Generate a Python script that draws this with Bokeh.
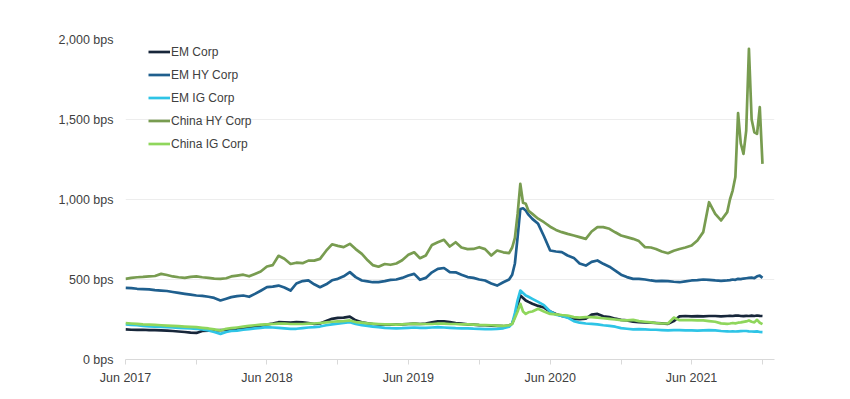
import pandas as pd
from datetime import datetime
from bokeh.plotting import figure
from bokeh.models import (Range1d, FixedTicker, DatetimeTickFormatter,
                          CustomJSTickFormatter, Legend, LegendItem)
from bokeh.embed import file_html
from bokeh.resources import INLINE

# ---------------- data ----------------
dates = [
    "2017-06-01", "2017-06-16", "2017-07-01", "2017-07-16", "2017-08-01", "2017-08-16",
    "2017-09-01", "2017-09-16", "2017-10-01", "2017-10-16", "2017-11-01", "2017-11-16",
    "2017-12-01", "2017-12-16", "2018-01-01", "2018-01-16", "2018-02-01", "2018-02-16",
    "2018-03-01", "2018-03-16", "2018-04-01", "2018-04-16", "2018-05-01", "2018-05-16",
    "2018-06-01", "2018-06-16", "2018-07-01", "2018-07-16", "2018-08-01", "2018-08-16",
    "2018-09-01", "2018-09-16", "2018-10-01", "2018-10-16", "2018-11-01", "2018-11-16",
    "2018-12-01", "2018-12-16", "2019-01-01", "2019-01-16", "2019-02-01", "2019-02-16",
    "2019-03-01", "2019-03-16", "2019-04-01", "2019-04-16", "2019-05-01", "2019-05-16",
    "2019-06-01", "2019-06-16", "2019-07-01", "2019-07-16", "2019-08-01", "2019-08-16",
    "2019-09-01", "2019-09-16", "2019-10-01", "2019-10-16", "2019-11-01", "2019-11-16",
    "2019-12-01", "2019-12-16", "2020-01-01", "2020-01-16",
    "2020-02-01", "2020-02-16", "2020-02-24", "2020-03-02", "2020-03-09", "2020-03-16",
    "2020-03-23", "2020-03-30", "2020-04-06", "2020-04-16",
    "2020-05-01", "2020-05-16", "2020-06-01", "2020-06-16", "2020-07-01", "2020-07-16",
    "2020-08-01", "2020-08-16", "2020-09-01", "2020-09-16", "2020-10-01", "2020-10-16",
    "2020-11-01", "2020-11-16", "2020-12-01", "2020-12-16", "2021-01-01", "2021-01-16",
    "2021-02-01", "2021-02-16", "2021-03-01", "2021-03-16", "2021-04-01", "2021-04-16",
    "2021-05-01", "2021-05-16", "2021-06-01", "2021-06-16", "2021-07-01", "2021-07-16",
    "2021-08-01", "2021-08-16",
    "2021-09-01", "2021-09-08", "2021-09-15", "2021-09-22", "2021-09-29", "2021-10-06",
    "2021-10-13", "2021-10-20", "2021-10-27", "2021-11-03", "2021-11-10", "2021-11-17",
    "2021-11-24", "2021-12-01",
]

em_corp = [
    188, 186, 185, 186, 184, 183, 182, 181, 178, 175, 172, 168,
    166, 178, 180, 182, 184, 185, 188, 190, 195, 198, 205, 212,
    219, 225, 233, 232, 230, 233, 232, 228, 222, 225, 240, 254,
    260, 262, 268, 245, 233, 226, 222, 219, 218, 218, 218, 220,
    222, 224, 222, 224, 232, 238, 238, 234, 228, 224, 220, 218,
    215, 214, 212, 210,
    208, 212, 225, 270, 340, 400, 385, 369, 360, 348,
    335, 325, 300, 285, 272, 265, 254, 252, 256, 280, 285, 270,
    265, 255, 248, 244, 236, 233, 232, 230, 228, 226, 223, 240,
    270, 272, 270, 271, 270, 272, 272, 270,
    272, 273, 272, 274, 275, 272, 271, 273, 272, 274, 272, 275,
    273, 272,
]

em_hy_corp = [
    448, 446, 442, 440, 438, 434, 431, 428, 422, 416, 410, 405,
    400, 398, 392, 385, 369, 380, 390, 396, 400, 392, 410, 430,
    452, 455, 462, 450, 431, 475, 490, 494, 470, 452, 470, 495,
    504, 520, 546, 515, 494, 488, 483, 484, 490, 498, 500, 510,
    525, 535, 498, 510, 545, 566, 572, 546, 545, 530, 515, 510,
    500, 494, 475, 462,
    483, 500, 530, 600, 765, 941, 945, 931, 905, 879,
    848, 770, 681, 675, 671, 650, 635, 600, 587, 610, 619, 598,
    580, 556, 530, 515, 504, 504, 500, 494, 490, 492, 490, 486,
    483, 488, 494, 496, 500, 498, 494, 492,
    494, 496, 500, 498, 504, 502, 506, 508, 510, 512, 508, 520,
    524, 510,
]

em_ig_corp = [
    219, 216, 214, 210, 207, 205, 203, 202, 200, 198, 196, 194,
    192, 188, 182, 172, 160, 172, 178, 181, 186, 190, 194, 198,
    202, 200, 198, 195, 192, 192, 196, 200, 202, 206, 214, 220,
    224, 228, 233, 222, 215, 210, 205, 202, 198, 196, 195, 196,
    198, 200, 198, 198, 200, 202, 200, 198, 196, 195, 195, 193,
    192, 190, 190, 192,
    195, 205, 225, 290, 370, 431, 415, 400, 392, 379,
    360, 340, 300, 280, 272, 262, 240, 230, 225, 223, 220, 214,
    210, 205, 196, 192, 188, 190, 188, 186, 186, 184, 182, 184,
    184, 182, 182, 180, 182, 184, 182, 178,
    176, 175, 176, 175, 176, 177, 178, 178, 176, 175, 174, 176,
    172, 171,
]

china_hy_corp = [
    504, 510, 514, 516, 519, 522, 535, 528, 519, 514, 510, 516,
    519, 514, 510, 505, 504, 508, 519, 524, 530, 520, 535, 550,
    581, 590, 648, 630, 597, 605, 602, 618, 618, 629, 680, 720,
    710, 702, 723, 690, 660, 620, 590, 580, 597, 592, 600, 620,
    654, 670, 633, 650, 716, 733, 748, 706, 733, 700, 690, 691,
    702, 690, 650, 681,
    670, 665, 700, 760, 910, 1098, 980, 973, 930, 910,
    880, 858, 830, 810, 796, 785, 775, 765, 754, 800, 827, 827,
    817, 795, 775, 765, 754, 740, 702, 700, 691, 675, 664, 680,
    691, 700, 712, 744, 796, 983, 910, 869,
    921, 1000, 1056, 1140, 1540, 1350, 1285, 1431, 1942, 1500, 1420, 1410,
    1577, 1223,
]

china_ig_corp = [
    227, 225, 223, 220, 218, 216, 214, 212, 210, 208, 206, 204,
    202, 198, 194, 188, 181, 192, 196, 200, 205, 210, 214, 218,
    220, 222, 224, 225, 222, 222, 222, 224, 225, 228, 232, 236,
    238, 240, 244, 234, 230, 226, 224, 222, 220, 220, 218, 220,
    222, 224, 222, 222, 222, 225, 224, 222, 222, 220, 220, 218,
    216, 215, 214, 212,
    210, 214, 222, 260, 300, 348, 300, 285, 295, 300,
    317, 300, 285, 282, 278, 275, 265, 262, 265, 265, 262, 258,
    254, 250, 246, 244, 248, 240, 236, 232, 228, 225, 225, 262,
    246, 246, 246, 244, 244, 240, 236, 226,
    223, 225, 228, 226, 230, 232, 235, 238, 244, 236, 232, 248,
    230, 221,
]

series_names = ["EM Corp", "EM HY Corp", "EM IG Corp", "China HY Corp", "China IG Corp"]
series_colors = ["#17263a", "#1f5f8e", "#2ec4e6", "#789c50", "#8fd65c"]
y_ticks = [0, 500, 1000, 1500, 2000]
x_tick_dates = ["2017-06-01", "2018-06-01", "2019-06-01", "2020-06-01", "2021-06-01"]
x_minor_dates = ["2017-12-01", "2018-12-01", "2019-12-01", "2020-12-01", "2021-12-01"]

# ---------------- figure ----------------
x = pd.to_datetime(dates)
FONT = "Liberation Sans"
TXT = "#404040"

p = figure(width=824, height=392, x_axis_type="datetime",
           output_backend="svg", toolbar_location=None,
           x_range=Range1d(datetime(2017, 6, 1), datetime(2022, 1, 1)),
           y_range=Range1d(0, 2000),
           min_border_left=125, min_border_right=50,
           min_border_top=39, min_border_bottom=33)
p.outline_line_color = None
p.background_fill_color = "white"
p.border_fill_color = "white"

to_ms = lambda s: pd.Timestamp(s).value / 1e6
p.xaxis.ticker = FixedTicker(ticks=[to_ms(d) for d in x_tick_dates],
                             minor_ticks=[to_ms(d) for d in x_minor_dates])
fmt = "%b %Y"
p.xaxis.formatter = DatetimeTickFormatter(years=fmt, months=fmt, days=fmt,
                                          hours=fmt, minutes=fmt, seconds=fmt,
                                          milliseconds=fmt, microseconds=fmt)
p.xaxis.axis_line_color = "#d9d9d9"
p.xaxis.major_tick_line_color = "#d9d9d9"
p.xaxis.minor_tick_line_color = "#d9d9d9"
p.xaxis.major_tick_in = 0
p.xaxis.major_tick_out = 5
p.xaxis.minor_tick_in = 0
p.xaxis.minor_tick_out = 5
p.xaxis.major_label_standoff = 6
p.xaxis.major_label_text_font_size = "12.5px"

p.yaxis.ticker = FixedTicker(ticks=y_ticks)
p.yaxis.formatter = CustomJSTickFormatter(
    code="return tick.toLocaleString('en-US') + ' bps';")
p.yaxis.axis_line_color = None
p.yaxis.major_tick_line_color = None
p.yaxis.minor_tick_line_color = None
p.yaxis.major_label_standoff = 6
p.yaxis.major_label_text_font_size = "12.5px"

for ax in (p.xaxis, p.yaxis):
    ax.major_label_text_font = FONT
    ax.major_label_text_color = TXT

p.xgrid.grid_line_color = None
p.ygrid.grid_line_color = "#ededed"
p.ygrid.ticker = FixedTicker(ticks=y_ticks)

values = [em_corp, em_hy_corp, em_ig_corp, china_hy_corp, china_ig_corp]
renderers = []
for name, vals, col in zip(series_names, values, series_colors):
    r = p.line(x, vals, line_color=col, line_width=2.7, line_join="round")
    renderers.append((name, r))

items = [LegendItem(label=n, renderers=[r]) for n, r in renderers]
legend = Legend(items=items, location=(23, 204), padding=0, margin=0,
                spacing=0, label_height=23, glyph_height=23, glyph_width=22,
                label_standoff=1, border_line_color=None,
                background_fill_alpha=0,
                label_text_font=FONT, label_text_font_size="12px",
                label_text_color=TXT)
p.add_layout(legend)

open("out.html", "w").write(file_html(p, INLINE))
